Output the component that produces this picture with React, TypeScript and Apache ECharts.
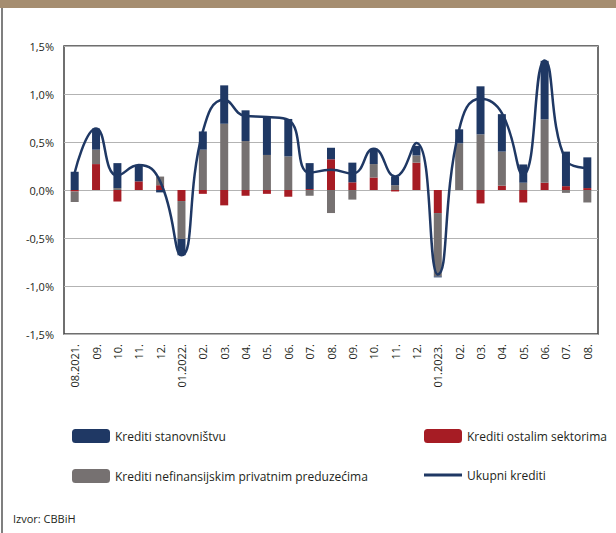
import React, { useEffect, useRef } from "react";
import * as echarts from "echarts";

const categories = [
  "08.2021.", "09.", "10.", "11.", "12.", "01.2022.", "02.", "03.", "04.", "05.", "06.", "07.", "08.",
  "09.", "10.", "11.", "12.", "01.2023.", "02.", "03.", "04.", "05.", "06.", "07.", "08.",
];

const stanovnistvu = [
  0.19, 0.22, 0.26, 0.17, -0.025, -0.17, 0.19, 0.4, 0.32, 0.405, 0.39, 0.27, 0.12,
  0.205, 0.16, 0.09, 0.1, -0.01, 0.146, 0.5, 0.39, 0.19, 0.61, 0.36, 0.32,
];
const ostalimSektorima = [
  -0.015, 0.27, -0.12, 0.09, 0.05, -0.115, -0.04, -0.16, -0.06, -0.04, -0.07, 0.01, 0.32,
  0.08, 0.13, -0.015, 0.285, -0.24, 0, -0.14, 0.045, -0.13, 0.076, 0.04, 0.02,
];
const preduzecima = [
  -0.11, 0.15, 0.02, 0, 0.09, -0.395, 0.42, 0.69, 0.51, 0.365, 0.35, -0.06, -0.24,
  -0.1, 0.14, 0.05, 0.075, -0.66, 0.486, 0.58, 0.355, 0.076, 0.66, -0.03, -0.13,
];
const ukupni = [
  0.18, 0.64, 0.15, 0.26, 0.09, -0.68, 0.61, 0.94, 0.77, 0.76, 0.73, 0.18, 0.21,
  0.17, 0.43, 0.14, 0.49, -0.88, 0.63, 0.95, 0.8, 0.16, 1.35, 0.31, 0.23,
];

const BLUE = "#1F3864";
const RED = "#A61C24";
const GRAY = "#767171";
const FONT = "Open Sans";
const TXT = "#231F20";

export default function App() {
  const ref = useRef<HTMLDivElement>(null);
  useEffect(() => {
    if (!ref.current) return;
    const chart = echarts.init(ref.current, null, { renderer: "svg" });
    const legendBase = {
      padding: 0,
      itemWidth: 38,
      itemHeight: 14,
      itemGap: 4,
      textStyle: { fontFamily: FONT, fontSize: 12, color: TXT },
      selectedMode: false,
    };
    chart.setOption({
      animation: false,
      textStyle: { fontFamily: FONT },
      grid: {
        left: 64,
        top: 46,
        width: 534,
        height: 288,
        show: true,
        borderColor: "#404040",
        borderWidth: 1.5,
        containLabel: false,
      },
      legend: [
        { ...legendBase, data: ["Krediti stanovništvu"], left: 72, top: 429 },
        { ...legendBase, data: ["Krediti ostalim sektorima"], left: 424, top: 429 },
        { ...legendBase, data: ["Krediti nefinansijskim privatnim preduzećima"], left: 72, top: 469 },
        {
          ...legendBase,
          itemHeight: 3,
          data: [{ name: "Ukupni krediti", icon: "rect", itemStyle: { color: BLUE } }],
          left: 424,
          top: 469,
        },
      ],
      xAxis: {
        type: "category",
        data: categories,
        axisLine: { show: false, onZero: false },
        axisTick: { show: false },
        axisLabel: {
          rotate: 90,
          interval: 0,
          margin: 10,
          fontFamily: FONT,
          fontSize: 11,
          color: TXT,
        },
      },
      yAxis: {
        type: "value",
        min: -1.5,
        max: 1.5,
        interval: 0.5,
        axisLine: { show: false },
        axisTick: { show: false },
        splitLine: { lineStyle: { color: "#B3B3B3", width: 1.2 } },
        axisLabel: {
          margin: 10,
          fontFamily: FONT,
          fontSize: 11,
          color: TXT,
          formatter: (v: number) => v.toFixed(1).replace(".", ",") + "%",
        },
      },
      series: [
        {
          name: "Krediti ostalim sektorima",
          type: "bar",
          stack: "k",
          barWidth: 8,
          itemStyle: { color: RED },
          data: ostalimSektorima,
        },
        {
          name: "Krediti nefinansijskim privatnim preduzećima",
          type: "bar",
          stack: "k",
          barWidth: 8,
          itemStyle: { color: GRAY },
          data: preduzecima,
        },
        {
          name: "Krediti stanovništvu",
          type: "bar",
          stack: "k",
          barWidth: 8,
          itemStyle: { color: BLUE },
          data: stanovnistvu,
        },
        {
          name: "Ukupni krediti",
          type: "line",
          smooth: 0.5,
          symbol: "none",
          lineStyle: { color: BLUE, width: 2.5 },
          itemStyle: { color: BLUE },
          data: ukupni,
          z: 5,
        },
      ],
      graphic: [
        { type: "rect", shape: { x: 0, y: 0, width: 616, height: 8 }, style: { fill: "#A58D70" } },
        { type: "line", shape: { x1: 2, y1: 8, x2: 2, y2: 533 }, style: { stroke: "#555555", lineWidth: 1.5 } },
        {
          type: "text",
          left: 13,
          top: 513,
          style: { text: "Izvor: CBBiH", fontFamily: FONT, fontSize: 11, fill: TXT },
        },
      ],
    });
    return () => chart.dispose();
  }, []);
  return (
    <div
      ref={ref}
      style={{ position: "fixed", left: 0, top: 0, width: 616, height: 533, background: "#fff" }}
    />
  );
}
